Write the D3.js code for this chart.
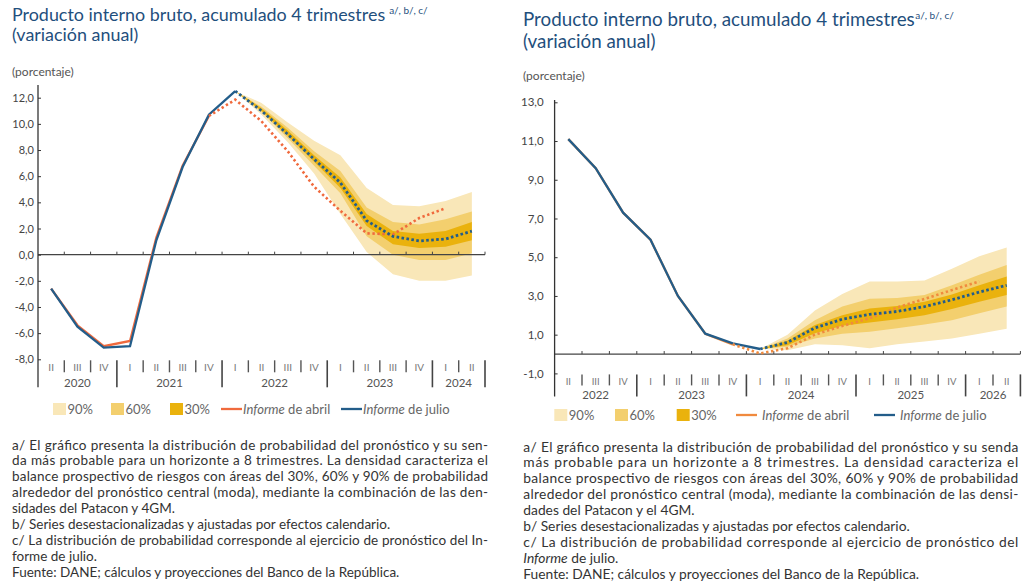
<!DOCTYPE html>
<html><head><meta charset="utf-8">
<script src="https://cdn.jsdelivr.net/npm/d3@7"></script>
<style>
body{margin:0;background:#fff;}
svg text{font-family:Lato,"Open Sans","Noto Sans",sans-serif;}
</style></head>
<body><svg id="c" width="1023" height="588"></svg>
<script>
// ---------- DATA ----------
const leftCategories = ["2020-II","2020-III","2020-IV","2021-I","2021-II","2021-III","2021-IV","2022-I","2022-II","2022-III","2022-IV","2023-I","2023-II","2023-III","2023-IV","2024-I","2024-II"];
const leftYTicks = [-8,-6,-4,-2,0,2,4,6,8,10,12];
const leftJulioHist = [-2.6,-5.5,-7.1,-7.0,1.1,6.7,10.7,12.5];            // 2020-II .. 2022-I
const leftJulioFcst = [12.5,11.0,9.2,7.3,5.5,2.6,1.4,1.05,1.2,1.8];       // 2022-I .. 2024-II
const leftAbrilHist = [-2.6,-5.4,-7.0,-6.6,1.3,6.8,10.6];                 // 2020-II .. 2021-IV
const leftAbrilFcst = [10.6,11.85,10.2,7.9,5.2,3.35,1.63,1.55,2.8,3.55];  // 2021-IV .. 2024-I
const leftFan90Up = [12.5,11.6,10.1,8.7,7.6,5.1,3.8,3.7,4.1,4.8];          // 2022-I .. 2024-II
const leftFan90Lo = [12.5,10.7,8.6,6.2,3.1,0.2,-1.5,-2.0,-2.0,-1.6];
const leftFan60Up = [12.5,11.3,9.7,7.9,6.4,3.6,2.5,2.3,2.7,3.3];
const leftFan60Lo = [12.5,10.9,8.9,6.8,4.7,1.4,0.0,-0.4,-0.4,0.1];
const leftFan30Up = [12.5,11.2,9.5,7.6,5.9,3.1,1.8,1.6,1.8,2.5];
const leftFan30Lo = [12.5,11.0,9.1,7.1,5.1,2.2,0.8,0.5,0.6,1.1];

const rightCategories = ["2022-II","2022-III","2022-IV","2023-I","2023-II","2023-III","2023-IV","2024-I","2024-II","2024-III","2024-IV","2025-I","2025-II","2025-III","2025-IV","2026-I","2026-II"];
const rightYTicks = [-1,1,3,5,7,9,11,13];
const rightJulioHist = [11.1,9.6,7.3,5.9,3.0,1.05,0.55,0.26];             // 2022-II .. 2024-I
const rightJulioFcst = [0.26,0.6,1.35,1.8,2.05,2.2,2.45,2.8,3.2,3.55];    // 2024-I .. 2026-II
const rightAbrilHist = [11.1,9.6,7.3,5.9,3.0,1.05,0.5];                   // 2022-II .. 2023-IV
const rightAbrilFcst = [0.5,0.03,0.3,1.0,1.45,1.85,2.4,2.85,3.3,3.75];    // 2023-IV .. 2026-I
const rightFan90Up = [0.26,1.0,2.25,3.1,3.75,3.75,3.8,4.4,5.05,5.5];       // 2024-I .. 2026-II
const rightFan90Lo = [0.26,0.2,0.5,0.45,0.3,0.5,0.65,0.8,1.05,1.3];
const rightFan60Up = [0.26,0.8,1.75,2.45,2.85,2.9,3.05,3.55,4.1,4.6];
const rightFan60Lo = [0.26,0.38,0.8,1.05,1.15,1.33,1.53,1.75,2.1,2.45];
const rightFan30Up = [0.26,0.68,1.5,2.0,2.35,2.48,2.7,3.08,3.55,4.0];
const rightFan30Lo = [0.26,0.46,1.07,1.46,1.63,1.8,2.0,2.32,2.7,3.05];

const legendLabels = ["90%","60%","30%"];
const leftNotes = [
 ["a/ El gráfico presenta la distribución de probabilidad del pronóstico y su sen-",true],
 ["da más probable para un horizonte a 8 trimestres. La densidad caracteriza el",true],
 ["balance prospectivo de riesgos con áreas del 30%, 60% y 90% de probabilidad",true],
 ["alrededor del pronóstico central (moda), mediante la combinación de las den-",true],
 ["sidades del Patacon y 4GM.",false],
 ["b/ Series desestacionalizadas y ajustadas por efectos calendario.",false],
 ["c/ La distribución de probabilidad corresponde al ejercicio de pronóstico del In-",true],
 ["forme de julio.",false],
 ["Fuente: DANE; cálculos y proyecciones del Banco de la República.",false]
];
const rightNotes = [
 ["a/ El gráfico presenta la distribución de probabilidad del pronóstico y su senda",true],
 ["más probable para un horizonte a 8 trimestres. La densidad caracteriza el",true],
 ["balance prospectivo de riesgos con áreas del 30%, 60% y 90% de probabilidad",true],
 ["alrededor del pronóstico central (moda), mediante la combinación de las densi-",true],
 ["dades del Patacon y el 4GM.",false],
 ["b/ Series desestacionalizadas y ajustadas por efectos calendario.",false],
 ["c/ La distribución de probabilidad corresponde al ejercicio de pronóstico del",true],
 ["*Informe* de julio.",false],
 ["Fuente: DANE; cálculos y proyecciones del Banco de la República.",false]
];

// ---------- STYLE ----------
const C90="#f9e7b8", C60="#f3cf6e", C30="#eab20d";
const BLUE="#235d8a", TITLE="#1f4f7d";

const svg = d3.select("#c");

function chart(o){
  const g = svg.append("g");
  const x = d3.scaleBand().domain(o.cats).range([o.x0,o.x1]).padding(0);
  const bw = x.bandwidth();
  const cx = c => x(c)+bw/2;
  const y = d3.scaleLinear().domain([o.yTicks[0], o.yTicks[o.yTicks.length-1]]).range([o.yb,o.yt]);
  // titles
  const t = g.append("text").attr("x",o.tx).attr("y",o.ty1).attr("fill",TITLE).attr("font-size",o.tfs);
  t.append("tspan").text("Producto interno bruto, acumulado 4 trimestres");
  t.append("tspan").attr("font-size",10).attr("dx",o.supdx).attr("dy",-7).text("a/, b/, c/");
  g.append("text").attr("x",o.tx).attr("y",o.ty2).attr("fill",TITLE).attr("font-size",o.tfs).text("(variación anual)");
  g.append("text").attr("x",o.tx).attr("y",o.py).attr("font-size",12).attr("fill","#555").text("(porcentaje)");

  // fans
  const n0 = o.cats.indexOf(o.fanStart);
  const fanCats = o.cats.slice(n0, n0+o.f90u.length);
  const area = (up,lo)=> d3.area().x((d,i)=>cx(fanCats[i])).y0((d,i)=>y(lo[i])).y1((d,i)=>y(up[i]))(up);
  g.append("path").attr("d",area(o.f90u,o.f90l)).attr("fill",C90);
  g.append("path").attr("d",area(o.f60u,o.f60l)).attr("fill",C60);
  g.append("path").attr("d",area(o.f30u,o.f30l)).attr("fill",C30);

  // zero line with ticks
  g.append("line").attr("x1",o.x0).attr("x2",o.x1).attr("y1",y(0)).attr("y2",y(0)).attr("stroke","#444").attr("stroke-width",1.2);
  for(let i=1;i<=o.cats.length;i++){
    const xx=o.x0+i*bw;
    g.append("line").attr("x1",xx).attr("x2",xx).attr("y1",y(0)-3).attr("y2",y(0)).attr("stroke","#444").attr("stroke-width",1);
  }

  // y axis
  const ya = g.append("g").attr("transform",`translate(${o.x0},0)`)
    .call(d3.axisRight(y).tickValues(o.yTicks).tickSize(3).tickFormat(d=>d3.format(".1f")(d).replace(".",",").replace("−","-")));
  ya.select(".domain").remove();
  ya.selectAll("line").attr("stroke","#333");
  ya.selectAll("text").attr("x",o.tlx).attr("text-anchor","end").attr("fill","#444").attr("font-size",o.tkfs).attr("font-family","Lato,sans-serif");
  g.append("line").attr("x1",o.x0).attr("x2",o.x0).attr("y1",o.axTop).attr("y2",o.yb+o.tall).attr("stroke","#333").attr("stroke-width",1.3);

  // x axis categories
  for(let i=1;i<=o.cats.length;i++){
    const xx=o.x0+i*bw;
    const isYear = i===o.cats.length || o.cats[i].split("-")[1]==="I";
    g.append("line").attr("x1",xx).attr("x2",xx).attr("y1",o.yb+1).attr("y2",o.yb+(isYear?o.tall:o.short))
      .attr("stroke",isYear?"#444":"#555").attr("stroke-width",isYear?1.6:1.4);
  }
  o.cats.forEach(c=>{
    g.append("text").attr("x",cx(c)).attr("y",o.qy).attr("text-anchor","middle").attr("fill","#777").attr("font-size",o.qfs).text(c.split("-")[1]);
  });
  const years = Array.from(new Set(o.cats.map(c=>c.split("-")[0])));
  years.forEach(yr=>{
    const cs=o.cats.filter(c=>c.startsWith(yr));
    const m=(x(cs[0])+x(cs[cs.length-1])+bw)/2;
    g.append("text").attr("x",m).attr("y",o.yry).attr("text-anchor","middle").attr("fill","#555").attr("font-size",o.yrfs).text(yr);
  });

  // lines
  const line = cats => d3.line().x((d,i)=>cx(cats[i])).y(d=>y(d));
  const hA = o.cats.slice(0,o.abH.length);
  const fAi = o.cats.indexOf(o.abFStart);
  const fA = o.cats.slice(fAi,fAi+o.abF.length);
  const hJ = o.cats.slice(0,o.juH.length);
  const fJi = o.cats.indexOf(o.fanStart);
  const fJ = o.cats.slice(fJi,fJi+o.juF.length);
  g.append("path").attr("d",line(hA)(o.abH)).attr("fill","none").attr("stroke",o.orange).attr("stroke-width",2.3);
  g.append("path").attr("d",line(hJ)(o.juH)).attr("fill","none").attr("stroke",BLUE).attr("stroke-width",2.3);
  g.append("path").attr("d",line(fA)(o.abF)).attr("fill","none").attr("stroke",o.orange).attr("stroke-width",2.6).attr("stroke-dasharray","2.4,2.6");
  g.append("path").attr("d",line(fJ)(o.juF)).attr("fill","none").attr("stroke",BLUE).attr("stroke-width",2.8).attr("stroke-dasharray","2.6,2.4");

  // legend
  const L=o.leg;
  [C90,C60,C30].forEach((col,i)=>{
    g.append("rect").attr("x",L.sw[i]).attr("y",L.y-6).attr("width",13).attr("height",12).attr("fill",col);
    g.append("text").attr("x",L.sw[i]+14.5).attr("y",L.y+4.5).attr("fill","#666").attr("font-size",13).text(legendLabels[i]);
  });
  [[o.orange," de abril"],[BLUE," de julio"]].forEach((d,i)=>{
    g.append("line").attr("x1",L.ln[i]).attr("x2",L.ln[i]+21).attr("y1",L.y).attr("y2",L.y).attr("stroke",d[0]).attr("stroke-width",2.3);
    const tx=g.append("text").attr("x",L.ln[i]+L.lnGap).attr("y",L.y+4.5).attr("fill","#666").attr("font-size",13);
    tx.append("tspan").attr("font-style","italic").text("Informe");
    tx.append("tspan").text(d[1]);
  });

  // notes
  o.notes.forEach((nl,i)=>{
    const tx=g.append("text").attr("x",o.nx).attr("y",o.ny+i*o.nlh).attr("fill","#333").attr("font-size",o.nfs);
    const parts=nl[0].split("*");
    parts.forEach((p,k)=>{ if(p) tx.append("tspan").attr("font-style",k%2?"italic":"normal").text(p); });
    if(nl[1]) tx.attr("textLength",o.nw).attr("lengthAdjust","spacing");
  });
}

chart({cats:leftCategories,x0:38,x1:485,yTicks:leftYTicks,yb:359.3,yt:97.7,axTop:85,
  tx:12,ty1:21,ty2:41,tfs:17.9,supdx:4,py:76,tlx:-4,tkfs:11,
  fanStart:"2022-I",f90u:leftFan90Up,f90l:leftFan90Lo,f60u:leftFan60Up,f60l:leftFan60Lo,f30u:leftFan30Up,f30l:leftFan30Lo,
  juH:leftJulioHist,juF:leftJulioFcst,abH:leftAbrilHist,abF:leftAbrilFcst,abFStart:"2021-IV",orange:"#f06a3d",
  short:13,tall:28,qy:371,qfs:10,yry:386.5,yrfs:11.5,
  leg:{y:409,sw:[53,111,170],ln:[221,341],lnGap:22},
  notes:leftNotes,nx:12,ny:449.5,nlh:15.9,nfs:13.5,nw:476});

chart({cats:rightCategories,x0:554.6,x1:1020.4,yTicks:rightYTicks,yb:373.4,yt:102.3,axTop:100,
  tx:523,ty1:26,ty2:48,tfs:18.8,supdx:0.5,py:80,tlx:-11,tkfs:11.5,
  fanStart:"2024-I",f90u:rightFan90Up,f90l:rightFan90Lo,f60u:rightFan60Up,f60l:rightFan60Lo,f30u:rightFan30Up,f30l:rightFan30Lo,
  juH:rightJulioHist,juF:rightJulioFcst,abH:rightAbrilHist,abF:rightAbrilFcst,abFStart:"2023-IV",orange:"#f08a3e",
  short:12,tall:23,qy:384.5,qfs:9.5,yry:398.5,yrfs:11.5,
  leg:{y:415,sw:[554.3,615,676.7],ln:[736,874],lnGap:26},
  notes:rightNotes,nx:523.3,ny:451.5,nlh:15.9,nfs:13.8,nw:495});
</script></body></html>
